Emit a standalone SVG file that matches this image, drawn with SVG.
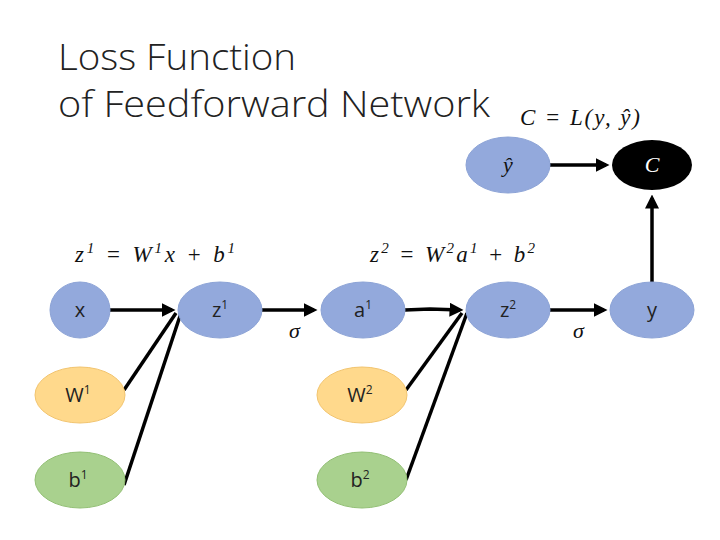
<svg xmlns="http://www.w3.org/2000/svg" width="720" height="540" viewBox="0 0 720 540">
<style>
.t{font-family:"Open Sans","Liberation Sans",sans-serif;fill:#222}
.m{font-family:"Liberation Serif",serif;font-style:italic;fill:#111}
.blue{fill:#93A9DC;stroke:#8CA3D6;stroke-width:1}
.org{fill:#FFD98C;stroke:#F2C46E;stroke-width:1}
.grn{fill:#A9D18E;stroke:#92BF74;stroke-width:1}
.c{stroke:#000;stroke-width:3.5;fill:none}
</style>
<defs><marker id="ah" markerWidth="4" markerHeight="4" refX="3" refY="2" orient="auto" markerUnits="strokeWidth"><path d="M0,0L4,2L0,4z" fill="#000"/></marker></defs>
<rect width="720" height="540" fill="#fff"/>
<text class="t" x="58" y="70" font-size="37" font-weight="300" textLength="238" lengthAdjust="spacingAndGlyphs">Loss Function</text>
<text class="t" x="58" y="117" font-size="37" font-weight="300" textLength="432" lengthAdjust="spacingAndGlyphs">of Feedforward Network</text>
<text class="m" x="520" y="125" font-size="23" textLength="120">C = L(y, ŷ)</text>
<text class="m" x="75" y="262" font-size="23" textLength="160">z<tspan font-size="15" dy="-9">1</tspan><tspan dy="9"> = </tspan><tspan>W</tspan><tspan font-size="15" dy="-9">1</tspan><tspan dy="9">x + b</tspan><tspan font-size="15" dy="-9">1</tspan></text>
<text class="m" x="370" y="262" font-size="23" textLength="165">z<tspan font-size="15" dy="-9">2</tspan><tspan dy="9"> = </tspan><tspan>W</tspan><tspan font-size="15" dy="-9">2</tspan><tspan dy="9">a</tspan><tspan font-size="15" dy="-9">1</tspan><tspan dy="9"> + b</tspan><tspan font-size="15" dy="-9">2</tspan></text>
<text class="m" x="289" y="338" font-size="22">σ</text>
<text class="m" x="573" y="338" font-size="22">σ</text>
<g id="connectors">
<line class="c" x1="110" y1="310" x2="172" y2="310" marker-end="url(#ah)"/>
<line class="c" x1="262" y1="310" x2="314" y2="310" marker-end="url(#ah)"/>
<polyline class="c" points="405,310 430,309 460,310" marker-end="url(#ah)"/>
<line class="c" x1="550" y1="310" x2="604" y2="310" marker-end="url(#ah)"/>
<line class="c" x1="550" y1="165" x2="606" y2="165" marker-end="url(#ah)"/>
<line class="c" x1="652" y1="282" x2="652" y2="198" marker-end="url(#ah)"/>
<line class="c" x1="124" y1="390" x2="176" y2="313"/>
<line class="c" x1="124" y1="485" x2="181" y2="313"/>
<line class="c" x1="406" y1="390" x2="462" y2="313"/>
<line class="c" x1="406" y1="480" x2="467" y2="313"/>
</g>
<g id="x"><ellipse class="blue" cx="80" cy="310" rx="30" ry="28"/><text class="t" x="80" y="317" font-size="20" text-anchor="middle">x</text></g>
<g id="z1"><ellipse class="blue" cx="220" cy="310" rx="42" ry="28"/><text class="t" x="220" y="317" font-size="20" text-anchor="middle">z<tspan font-size="12" dy="-8">1</tspan></text></g>
<g id="a1"><ellipse class="blue" cx="363" cy="310" rx="42" ry="28"/><text class="t" x="363" y="317" font-size="20" text-anchor="middle">a<tspan font-size="12" dy="-8">1</tspan></text></g>
<g id="z2"><ellipse class="blue" cx="508" cy="310" rx="42" ry="28"/><text class="t" x="508" y="317" font-size="20" text-anchor="middle">z<tspan font-size="12" dy="-8">2</tspan></text></g>
<g id="y"><ellipse class="blue" cx="652" cy="310" rx="42" ry="28"/><text class="t" x="652" y="317" font-size="20" text-anchor="middle">y</text></g>
<g id="yhat"><ellipse class="blue" cx="508" cy="165" rx="42" ry="28"/><text class="m" x="508" y="172" font-size="22" text-anchor="middle">ŷ</text></g>
<g id="C"><ellipse cx="652" cy="165" rx="40" ry="25" fill="#000"/><text class="m" x="652" y="172" font-size="22" text-anchor="middle" style="fill:#fff">C</text></g>
<g id="W1"><ellipse class="org" cx="80" cy="395" rx="45" ry="28"/><text class="t" x="78" y="402" font-size="20" text-anchor="middle">W<tspan font-size="12" dy="-8">1</tspan></text></g>
<g id="b1"><ellipse class="grn" cx="80" cy="480" rx="45" ry="28"/><text class="t" x="78" y="487" font-size="20" text-anchor="middle">b<tspan font-size="12" dy="-8">1</tspan></text></g>
<g id="W2"><ellipse class="org" cx="362" cy="395" rx="45" ry="28"/><text class="t" x="360" y="402" font-size="20" text-anchor="middle">W<tspan font-size="12" dy="-8">2</tspan></text></g>
<g id="b2"><ellipse class="grn" cx="362" cy="480" rx="45" ry="28"/><text class="t" x="360" y="487" font-size="20" text-anchor="middle">b<tspan font-size="12" dy="-8">2</tspan></text></g>
</svg>
